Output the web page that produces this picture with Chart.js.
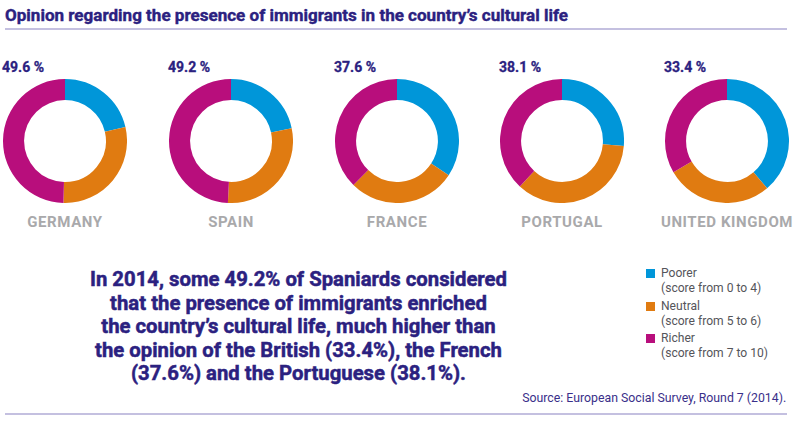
<!DOCTYPE html>
<html>
<head>
<meta charset="utf-8">
<script src="https://cdn.jsdelivr.net/npm/chart.js@4.4.1/dist/chart.umd.min.js"></script>
<style>
  html, body { margin:0; padding:0; background:#fff; }
  #wrap { position:relative; width:800px; height:441px; overflow:hidden; font-family: Roboto, "Noto Sans", sans-serif; }
  .abs { position:absolute; white-space:nowrap; }
  #title { left:5px; top:5px; font-size:17px; font-weight:700; color:#2b2180; transform-origin:left top; -webkit-text-stroke:0.4px #2b2180; }
  .rule { position:absolute; left:5px; width:782px; height:2px; background:#c4c0e0; }
  .pct { font-size:14px; font-weight:700; color:#2b2180; transform-origin:left center; -webkit-text-stroke:0.3px #2b2180; }
  .country { font-size:15px; font-weight:700; color:#a9a9ab; transform-origin:center center; letter-spacing:0.6px; }
  #para { left:90px; top:268px; font-size:21px; font-weight:700; color:#2b2180; line-height:23.5px; text-align:center; transform-origin:left top; -webkit-text-stroke:0.5px #2b2180; }
  .leg { font-size:13px; color:#55555a; line-height:14.5px; transform-origin:left top; font-weight:400; }
  .sq { position:absolute; width:9px; height:9px; }
  #source { top:390px; font-size:13px; color:#3a2f8a; transform-origin:right top; }
  canvas { position:absolute; }
</style>
</head>
<body>
<div id="wrap">
  <div id="title" class="abs">Opinion regarding the presence of immigrants in the country’s cultural life</div>
  <div class="rule" style="top:28px"></div>
  <div class="rule" style="top:413px"></div>
  <div id="para" class="abs">In 2014, some 49.2% of Spaniards considered<br>that the presence of immigrants enriched<br>the country’s cultural life, much higher than<br>the opinion of the British (33.4%), the French<br>(37.6%) and the Portuguese (38.1%).</div>
  <div id="source" class="abs">Source: European Social Survey, Round 7 (2014).</div>
</div>
<script>
const countries = ["GERMANY", "SPAIN", "FRANCE", "PORTUGAL", "UNITED KINGDOM"];
const seriesNames = ["Poorer", "Neutral", "Richer"];
const seriesNotes = ["(score from 0 to 4)", "(score from 5 to 6)", "(score from 7 to 10)"];
const poorer  = [21.4, 21.7, 34.3, 26.3, 38.8];
const neutral = [29.0, 29.1, 28.1, 35.6, 27.8];
const richer  = [49.6, 49.2, 37.6, 38.1, 33.4];
const richerLabels = ["49.6 %", "49.2 %", "37.6 %", "38.1 %", "33.4 %"];
const colors = ["#0096d9", "#e07b11", "#b80e7c"];

const wrap = document.getElementById('wrap');
const centersX = [65, 231, 397, 562, 727];
const centerY = 141;
const R = 62;

function fitWidth(el, target) {
  const w = el.getBoundingClientRect().width;
  el.style.transform = 'scaleX(' + (target / w) + ')';
}

countries.forEach((name, i) => {
  const cv = document.createElement('canvas');
  cv.width = 2 * R; cv.height = 2 * R;
  cv.style.width = (2 * R) + 'px'; cv.style.height = (2 * R) + 'px';
  cv.style.left = (centersX[i] - R) + 'px';
  cv.style.top = (centerY - R) + 'px';
  wrap.appendChild(cv);
  new Chart(cv, {
    type: 'doughnut',
    data: {
      labels: seriesNames,
      datasets: [{
        data: [poorer[i], neutral[i], richer[i]],
        backgroundColor: colors,
        borderWidth: 0,
        hoverOffset: 0
      }]
    },
    options: {
      responsive: false,
      animation: false,
      cutout: '66%',
      layout: { padding: 0 },
      plugins: { legend: { display: false }, tooltip: { enabled: false } },
      events: []
    }
  });

  const p = document.createElement('div');
  p.className = 'abs pct';
  p.textContent = richerLabels[i];
  p.style.left = (centersX[i] - 63) + 'px';
  p.style.top = '59px';
  wrap.appendChild(p);

  const c = document.createElement('div');
  c.className = 'abs country';
  c.textContent = name;
  wrap.appendChild(c);
  const cw = c.getBoundingClientRect().width;
  c.style.left = (centersX[i] - cw / 2) + 'px';
  c.style.top = '213px';
});

// legend
const legY = [266, 299, 331];
const legEls = [];
seriesNames.forEach((s, i) => {
  const sq = document.createElement('div');
  sq.className = 'sq';
  sq.style.background = colors[i];
  sq.style.left = '646px';
  sq.style.top = (legY[i] + 3) + 'px';
  wrap.appendChild(sq);
  const t = document.createElement('div');
  t.className = 'abs leg';
  t.innerHTML = s + '<br>' + seriesNotes[i];
  t.style.left = '661px';
  t.style.top = legY[i] + 'px';
  wrap.appendChild(t);
  legEls.push(t);
});

fitWidth(document.getElementById('title'), 563);
fitWidth(document.getElementById('para'), 417);
const src = document.getElementById('source');
const sw = src.getBoundingClientRect().width;
src.style.left = (786 - sw) + 'px';
fitWidth(src, 264);
const legScale = 107 / legEls[2].getBoundingClientRect().width;
legEls.forEach(el => { el.style.transform = 'scaleX(' + legScale + ')'; });
</script>
</body>
</html>
